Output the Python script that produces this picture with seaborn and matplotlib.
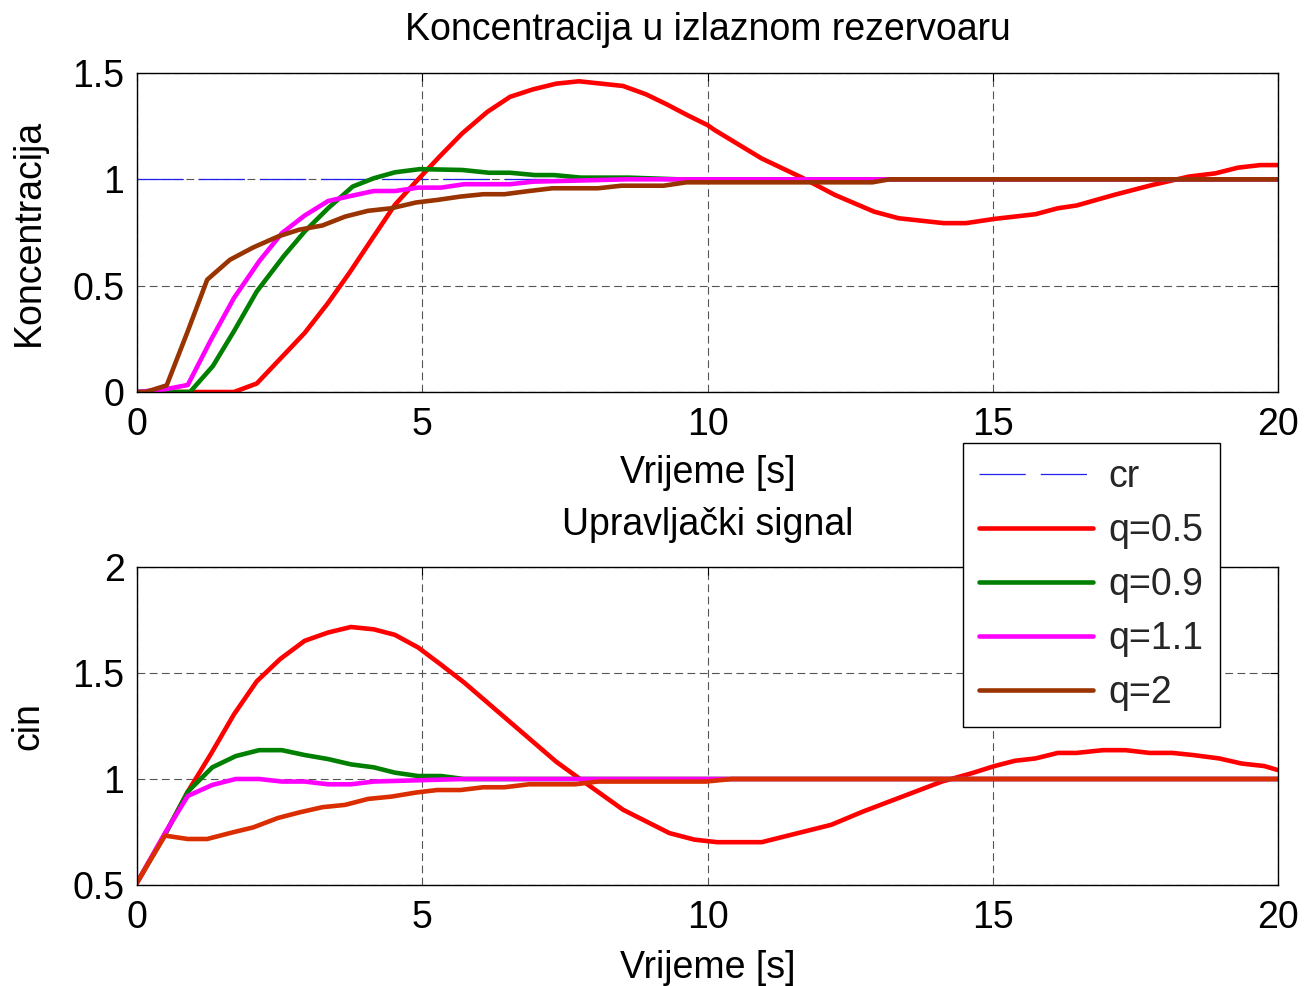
import numpy as np
import pandas as pd
import matplotlib
matplotlib.use("Agg")
import matplotlib.pyplot as plt
import seaborn as sns
from matplotlib.ticker import FuncFormatter

# ---------------- data ----------------
# Top: Koncentracija u izlaznom rezervoaru
t_cr = [0, 20]
c_cr = [1, 1]

t_top_q05 = [0, 1.70, 2.10, 2.94, 3.35, 3.72, 4.09, 4.52, 4.89, 5.30, 5.70, 6.14, 6.54, 6.94,
             7.35, 7.75, 8.52, 8.92, 9.29, 9.66, 10.0, 10.13, 10.95, 11.68, 12.23, 12.92, 13.35,
             14.14, 14.53, 15.03, 15.75, 16.14, 16.47, 17.13, 17.79, 18.44, 18.90, 19.30, 19.69, 20]
c_top_q05 = [0, 0, 0.04, 0.278, 0.419, 0.559, 0.708, 0.880, 0.989, 1.106, 1.216, 1.317, 1.388, 1.423,
             1.45, 1.461, 1.439, 1.40, 1.352, 1.30, 1.255, 1.231, 1.098, 1.005, 0.927, 0.848, 0.817,
             0.794, 0.794, 0.814, 0.836, 0.864, 0.877, 0.927, 0.973, 1.013, 1.028, 1.055, 1.067, 1.067]

t_top_q09 = [0, 0.93, 1.33, 1.70, 2.10, 2.57, 2.94, 3.35, 3.78, 4.15, 4.52, 4.96, 5.70, 6.17,
             6.54, 6.98, 7.31, 7.78, 8.62, 9.5, 20]
c_top_q09 = [0, 0, 0.122, 0.286, 0.473, 0.638, 0.755, 0.864, 0.966, 1.005, 1.033, 1.048, 1.044, 1.031,
             1.031, 1.02, 1.02, 1.008, 1.008, 1.0, 1.0]

t_top_q11 = [0, 0.49, 0.89, 1.30, 1.70, 2.14, 2.54, 2.94, 3.35, 3.75, 4.15, 4.52, 4.93, 5.33,
             5.73, 6.54, 6.94, 8.6, 20]
c_top_q11 = [0, 0.0125, 0.033, 0.247, 0.442, 0.614, 0.747, 0.83, 0.898, 0.922, 0.945, 0.945, 0.961, 0.961,
             0.977, 0.977, 0.989, 1.0, 1.0]

t_top_q2 = [0, 0.15, 0.52, 0.89, 1.23, 1.63, 2.04, 2.47, 2.84, 3.25, 3.65, 4.05, 4.46, 4.89,
            5.26, 5.67, 6.07, 6.44, 6.87, 7.28, 8.08, 8.49, 9.23, 9.63, 12.89, 13.19, 20]
c_top_q2 = [0, 0, 0.031, 0.286, 0.528, 0.622, 0.68, 0.731, 0.763, 0.783, 0.825, 0.852, 0.864, 0.891,
            0.903, 0.919, 0.930, 0.930, 0.945, 0.958, 0.958, 0.970, 0.970, 0.986, 0.986, 1.0, 1.0]

# Bottom: Upravljacki signal (cin)
t_bot_q05 = [0, 0.15, 0.49, 0.89, 1.30, 1.70, 2.10, 2.51, 2.94, 3.35, 3.75, 4.15, 4.52, 4.93,
             5.33, 5.73, 7.35, 7.75, 8.52, 9.33, 9.77, 10.17, 10.95, 12.17, 12.73, 14.11, 14.63,
             15.03, 15.39, 15.75, 16.14, 16.47, 16.93, 17.33, 17.75, 18.15, 18.51, 18.97, 19.36, 19.76, 20]
u_bot_q05 = [0.511, 0.58, 0.738, 0.94, 1.12, 1.305, 1.461, 1.566, 1.652, 1.691, 1.717, 1.706, 1.68, 1.62,
             1.539, 1.456, 1.081, 1.003, 0.855, 0.745, 0.714, 0.702, 0.702, 0.784, 0.847, 0.988, 1.027,
             1.061, 1.086, 1.097, 1.123, 1.123, 1.136, 1.136, 1.123, 1.123, 1.113, 1.097, 1.073, 1.061, 1.042]

t_bot_q09 = [0, 0.49, 0.89, 1.32, 1.73, 2.14, 2.54, 2.94, 3.35, 3.75, 4.15, 4.52, 4.93, 5.33, 5.73, 20]
u_bot_q09 = [0.511, 0.738, 0.94, 1.055, 1.108, 1.136, 1.136, 1.113, 1.094, 1.069, 1.055, 1.03, 1.014, 1.014, 1.0, 1.0]

t_bot_q11 = [0, 0.49, 0.89, 1.32, 1.73, 2.14, 2.54, 2.94, 3.35, 3.75, 4.15, 5.73, 20]
u_bot_q11 = [0.511, 0.745, 0.92, 0.972, 1.0, 1.0, 0.988, 0.988, 0.975, 0.975, 0.988, 1.0, 1.0]

t_bot_q2 = [0, 0.15, 0.49, 0.89, 1.23, 1.63, 2.04, 2.47, 2.84, 3.25, 3.65, 4.05, 4.46, 4.89,
            5.26, 5.67, 6.07, 6.44, 6.87, 7.68, 8.08, 9.97, 10.43, 20]
u_bot_q2 = [0.511, 0.58, 0.733, 0.717, 0.717, 0.745, 0.772, 0.816, 0.842, 0.867, 0.878, 0.906, 0.917, 0.936,
            0.948, 0.948, 0.961, 0.961, 0.975, 0.975, 0.988, 0.988, 1.0, 1.0]

legend_labels = ["cr", "q=0.5", "q=0.9", "q=1.1", "q=2"]
x_ticks = [0, 5, 10, 15, 20]
top_yticks = [0, 0.5, 1, 1.5]
bot_yticks = [0.5, 1, 1.5, 2]

# ---------------- style ----------------
sns.set_theme(style="white")
FONT = ["Liberation Sans", "DejaVu Sans"]
plt.rcParams["font.family"] = FONT
FS = 27
plt.rcParams["font.size"] = FS

C_RED = "#FF0000"
C_GREEN = "#007F00"
C_MAG = "#FF00FF"
C_BROWN = "#993300"
C_BROWN_BOT = "#DA2E00"
C_CR = "#2020F0"
LW = 3.3

fig = plt.figure(figsize=(13.04, 9.86), dpi=100)
fig.patch.set_facecolor("white")
W, H = 1304, 986
ax_top = fig.add_axes([137 / W, 1 - 392 / H, 1141 / W, 319 / H])
ax_bot = fig.add_axes([137 / W, 1 - 885 / H, 1141 / W, 318 / H])


def line(ax, t, v, color, lw=LW, label=None, **kw):
    sns.lineplot(x=t, y=v, ax=ax, color=color, lw=lw, label=label,
                 estimator=None, sort=False, legend=False, **kw)


line(ax_top, t_cr, c_cr, C_CR, lw=0.9, label=legend_labels[0], linestyle=(0, (37, 12)))
line(ax_top, t_top_q05, c_top_q05, C_RED, label=legend_labels[1])
line(ax_top, t_top_q09, c_top_q09, C_GREEN, label=legend_labels[2])
line(ax_top, t_top_q11, c_top_q11, C_MAG, label=legend_labels[3])
line(ax_top, t_top_q2, c_top_q2, C_BROWN, label=legend_labels[4])

line(ax_bot, t_bot_q05, u_bot_q05, C_RED)
line(ax_bot, t_bot_q09, u_bot_q09, C_GREEN)
line(ax_bot, t_bot_q11, u_bot_q11, C_MAG)
line(ax_bot, t_bot_q2, u_bot_q2, C_BROWN_BOT)

fmt = FuncFormatter(lambda v, p: "%g" % v)
for ax, yt, ylim in [(ax_top, top_yticks, (0, 1.5)), (ax_bot, bot_yticks, (0.5, 2))]:
    if ax.get_legend() is not None:
        ax.get_legend().remove()
    ax.set_facecolor("white")
    ax.set_xlim(0, 20)
    ax.set_ylim(*ylim)
    ax.set_xticks(x_ticks)
    ax.set_yticks(yt)
    ax.xaxis.set_major_formatter(fmt)
    ax.yaxis.set_major_formatter(fmt)
    ax.grid(True, color="#555555", linestyle=(0, (7, 4)), linewidth=0.8)
    ax.set_axisbelow(True)
    for s in ax.spines.values():
        s.set_visible(True)
        s.set_color("black")
        s.set_linewidth(1.0)
    ax.tick_params(axis="both", which="major", direction="in", length=6, width=0.8,
                   color="black", top=True, right=True, labelsize=FS,
                   labelcolor="black")
    ax.tick_params(axis="x", pad=10.5)
    ax.tick_params(axis="y", pad=9)
    ax.set_xlabel("Vrijeme [s]", fontsize=FS, color="black")

ax_top.set_ylabel("Koncentracija", fontsize=FS, color="black")
ax_bot.set_ylabel("cin", fontsize=FS, color="black")
ax_top.yaxis.set_label_coords(-0.079, 0.5)
ax_bot.yaxis.set_label_coords(-0.079, 0.5)
ax_top.xaxis.set_label_coords(0.5, -0.199)
ax_bot.xaxis.set_label_coords(0.5, -0.205)

ax_top.set_title("Koncentracija u izlaznom rezervoaru", fontsize=FS, color="black", pad=23.5)
ax_bot.set_title("Upravljački signal", fontsize=FS, color="black", pad=23)

handles = ax_top.get_lines()[:5]
leg = fig.legend(handles, legend_labels, loc="upper left",
                 bbox_to_anchor=(963 / W, 1 - 443 / H), bbox_transform=fig.transFigure,
                 borderaxespad=0, fancybox=False, framealpha=1, edgecolor="black",
                 fontsize=FS, handlelength=3.05, handletextpad=0.42, labelspacing=0.48,
                 borderpad=0.42, facecolor="white")
leg.get_frame().set_linewidth(1.0)
leg.set_zorder(10)

fig.savefig("out.png", dpi=100, facecolor="white")
